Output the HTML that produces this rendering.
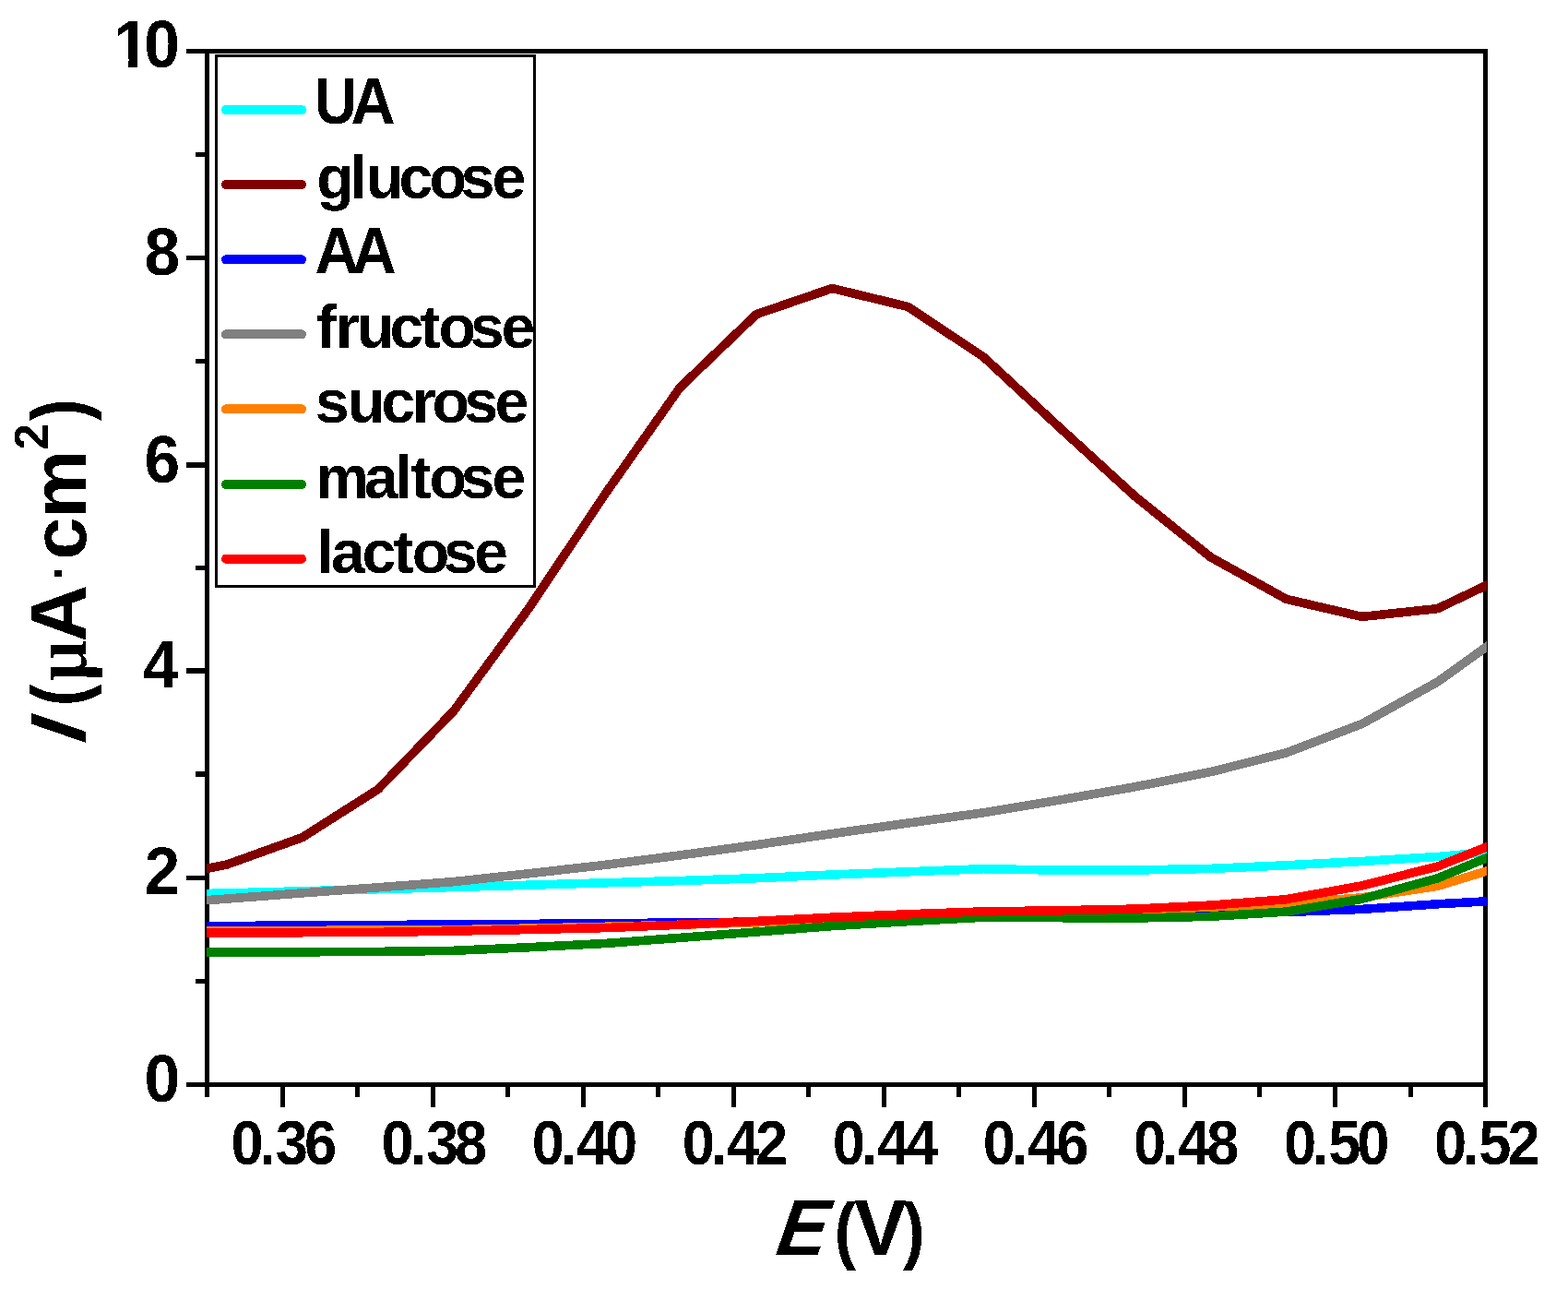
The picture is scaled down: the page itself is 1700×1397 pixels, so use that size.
<!DOCTYPE html>
<html lang="en">
<head>
<meta charset="utf-8">
<title>I vs E chart</title>
<style>
html,body{margin:0;padding:0;background:#fff;}
body{width:1700px;height:1397px;overflow:hidden;}
svg{display:block;}
text{white-space:pre;}
</style>
</head>
<body>
<svg width="1700" height="1397" viewBox="0 0 1700 1397">
<rect width="1700" height="1397" fill="#fff"/>
<g shape-rendering="crispEdges">
<rect x="202" y="53" width="1411" height="5" fill="#000"/>
<rect x="202" y="1173" width="1411" height="5" fill="#000"/>
<rect x="222" y="53" width="5" height="1136" fill="#000"/>
<rect x="1608" y="53" width="5" height="1147" fill="#000"/>
<rect x="212" y="1061" width="10" height="5" fill="#000"/>
<rect x="202" y="949" width="20" height="5" fill="#000"/>
<rect x="212" y="836" width="10" height="6" fill="#000"/>
<rect x="202" y="724" width="20" height="6" fill="#000"/>
<rect x="212" y="613" width="10" height="5" fill="#000"/>
<rect x="202" y="501" width="20" height="6" fill="#000"/>
<rect x="212" y="389" width="10" height="5" fill="#000"/>
<rect x="202" y="277" width="20" height="5" fill="#000"/>
<rect x="212" y="165" width="10" height="5" fill="#000"/>
<rect x="304" y="1178" width="5" height="22" fill="#000"/>
<rect x="385" y="1178" width="5" height="11" fill="#000"/>
<rect x="467" y="1178" width="5" height="22" fill="#000"/>
<rect x="548" y="1178" width="5" height="11" fill="#000"/>
<rect x="630" y="1178" width="5" height="22" fill="#000"/>
<rect x="711" y="1178" width="5" height="11" fill="#000"/>
<rect x="793" y="1178" width="5" height="22" fill="#000"/>
<rect x="874" y="1178" width="5" height="11" fill="#000"/>
<rect x="956" y="1178" width="5" height="22" fill="#000"/>
<rect x="1037" y="1178" width="5" height="11" fill="#000"/>
<rect x="1119" y="1178" width="5" height="22" fill="#000"/>
<rect x="1200" y="1178" width="5" height="11" fill="#000"/>
<rect x="1282" y="1178" width="5" height="22" fill="#000"/>
<rect x="1363" y="1178" width="5" height="11" fill="#000"/>
<rect x="1445" y="1178" width="5" height="22" fill="#000"/>
<rect x="1527" y="1178" width="5" height="11" fill="#000"/>
</g>
<defs><clipPath id="pc"><rect x="224" y="40" width="1388" height="1150"/></clipPath></defs>
<g clip-path="url(#pc)" fill="none" stroke-width="9.6" stroke-linejoin="round" stroke-linecap="butt" shape-rendering="crispEdges">
<polyline stroke="#00ffff" points="163.6,970.1 245.7,967.9 327.8,965.8 409.8,963.7 491.9,961.5 573.9,959.2 656.0,956.8 738.1,954.5 820.1,951.7 902.2,948.0 984.2,944.8 1066.3,941.7 1148.4,943.1 1230.4,943.0 1312.5,941.4 1394.5,937.8 1476.6,933.5 1558.7,928.5 1640.7,921.1"/>
<polyline stroke="#800000" points="163.6,953.0 245.7,937.1 327.8,907.6 409.8,855.5 491.9,770.5 573.9,658.5 656.0,535.5 737.2,420.0 820.1,340.6 902.2,312.5 984.2,332.4 1066.3,386.8 1148.4,463.0 1230.4,537.8 1312.5,603.8 1394.5,649.3 1476.6,668.4 1558.7,659.6 1640.7,620.4"/>
<polyline stroke="#0000ff" points="163.6,1003.9 245.7,1003.5 327.8,1003.0 409.8,1002.5 491.9,1002.0 573.9,1001.4 656.0,1000.7 738.1,1000.0 820.1,999.0 902.2,997.1 984.2,995.2 1066.3,993.2 1148.4,992.2 1230.4,991.3 1312.5,990.3 1394.5,988.5 1476.6,985.4 1558.7,979.8 1640.7,975.2"/>
<polyline stroke="#808080" points="163.6,980.2 245.7,974.1 327.8,967.9 409.8,961.8 491.9,955.6 573.9,946.7 656.0,937.4 738.1,926.8 820.1,915.6 902.2,903.6 984.2,892.1 1066.3,880.8 1148.4,867.1 1230.4,852.8 1312.5,836.6 1394.5,815.9 1476.6,784.5 1558.7,739.0 1640.7,680.1"/>
<polyline stroke="#ff8000" points="163.6,1009.2 245.7,1008.8 327.8,1008.4 409.8,1008.1 491.9,1007.7 573.9,1006.1 656.0,1004.3 738.1,1002.2 820.1,999.8 902.2,997.0 984.2,994.2 1066.3,991.4 1148.4,988.8 1230.4,986.1 1312.5,983.1 1394.5,979.3 1476.6,972.8 1558.7,960.3 1640.7,935.2"/>
<polyline stroke="#008000" points="163.6,1032.6 245.7,1032.2 327.8,1031.8 409.8,1031.4 491.9,1030.3 573.9,1026.7 656.0,1022.5 738.1,1016.3 820.1,1010.0 902.2,1003.6 984.2,998.6 1066.3,994.2 1148.4,994.7 1230.4,995.0 1312.5,993.3 1394.5,988.1 1476.6,974.3 1558.7,951.8 1640.7,917.8"/>
<polyline stroke="#ff0000" points="163.6,1011.0 245.7,1010.9 327.8,1010.7 409.8,1010.4 491.9,1009.1 573.9,1007.5 656.0,1005.6 738.1,1002.2 820.1,998.4 902.2,994.2 984.2,990.8 1066.3,987.9 1148.4,986.8 1230.4,985.1 1312.5,981.1 1394.5,974.7 1476.6,959.9 1558.7,939.0 1640.7,906.4"/>
</g>
<g shape-rendering="crispEdges">
<rect x="234.5" y="60.5" width="345" height="575" fill="#fff" stroke="#000" stroke-width="3"/>
</g>
<g stroke-width="10" stroke-linecap="round" shape-rendering="crispEdges">
<line x1="245" y1="119" x2="327" y2="119" stroke="#00ffff"/>
<line x1="245" y1="200" x2="327" y2="200" stroke="#800000"/>
<line x1="245" y1="281.3" x2="327" y2="281.3" stroke="#0000ff"/>
<line x1="245" y1="362.4" x2="327" y2="362.4" stroke="#808080"/>
<line x1="245" y1="443.4" x2="327" y2="443.4" stroke="#ff8000"/>
<line x1="245" y1="525" x2="327" y2="525" stroke="#008000"/>
<line x1="245" y1="605.7" x2="327" y2="605.7" stroke="#ff0000"/>
</g>
<filter id="al" filterUnits="userSpaceOnUse" x="0" y="0" width="1700" height="1397" color-interpolation-filters="sRGB"><feComponentTransfer><feFuncA type="discrete" tableValues="0 1"/></feComponentTransfer></filter>
<g font-family="&quot;Liberation Sans&quot;, Arial, sans-serif" font-weight="bold" fill="#000" filter="url(#al)">
<text transform="translate(0,1193.7) scale(1,1.035)" x="156.40" y="0" font-size="69.6">0</text>
<text transform="translate(0,968.9) scale(1,1.035)" x="156.60" y="0" font-size="69.6">2</text>
<text transform="translate(0,744.7) scale(1,1.035)" x="154.90" y="0" font-size="69.6">4</text>
<text transform="translate(0,522.7) scale(1,1.035)" x="156.40" y="0" font-size="69.6">6</text>
<text transform="translate(0,298.4) scale(1,1.035)" x="156.40" y="0" font-size="69.6">8</text>
<clipPath id="one"><rect x="100" y="0" width="100" height="64.70"/><rect x="161" y="64.20" width="39" height="12"/><rect x="139.44" y="64.20" width="9.55" height="12"/></clipPath>
<g clip-path="url(#one)"><text transform="translate(0,72.7) scale(1,1.035)" x="123.20 156.30" y="0" font-size="69.6">10</text></g>
<text transform="translate(0,1261.5) scale(1,1.071)" x="250.53 281.33 298.83 329.93" y="0" font-size="63.3">0.36</text>
<text transform="translate(0,1261.5) scale(1,1.071)" x="413.59 444.39 461.89 492.99" y="0" font-size="63.3">0.38</text>
<text transform="translate(0,1261.5) scale(1,1.071)" x="576.65 607.45 624.95 656.05" y="0" font-size="63.3">0.40</text>
<text transform="translate(0,1261.5) scale(1,1.071)" x="739.71 770.51 788.01 819.11" y="0" font-size="63.3">0.42</text>
<text transform="translate(0,1261.5) scale(1,1.071)" x="902.76 933.56 951.06 982.16" y="0" font-size="63.3">0.44</text>
<text transform="translate(0,1261.5) scale(1,1.071)" x="1065.82 1096.62 1114.12 1145.22" y="0" font-size="63.3">0.46</text>
<text transform="translate(0,1261.5) scale(1,1.071)" x="1228.88 1259.68 1277.18 1308.28" y="0" font-size="63.3">0.48</text>
<text transform="translate(0,1261.5) scale(1,1.071)" x="1391.94 1422.74 1440.24 1471.34" y="0" font-size="63.3">0.50</text>
<text transform="translate(0,1261.5) scale(1,1.071)" x="1555.00 1585.80 1603.30 1634.40" y="0" font-size="63.3">0.52</text>
<text transform="translate(0,133.9) scale(1,1.055)" x="341.21 380.44" y="0" font-size="66.5"><tspan textLength="45.62" lengthAdjust="spacingAndGlyphs">U</tspan>A</text>
<text x="343.27 379.36 396.78 432.40 465.50 499.56 533.60" y="214.8" font-size="66.5">glucose</text>
<text transform="translate(0,295.8) scale(1,1.055)" x="341.44 381.84" y="0" font-size="66.5">AA</text>
<text x="342.96 363.72 386.78 422.40 455.49 475.40 509.86 543.40" y="376.9" font-size="66.5">fructose</text>
<text x="341.76 376.78 413.30 446.82 468.40 503.26 536.50" y="457.9" font-size="66.5">sucrose</text>
<text x="342.86 394.85 428.56 445.19 465.50 499.56 533.60" y="539.7" font-size="66.5"><tspan textLength="57.18" lengthAdjust="spacingAndGlyphs">m</tspan>altose</text>
<text x="343.26 359.05 392.40 426.59 446.80 480.86 514.00" y="620.7" font-size="66.5">lactose</text>
<text transform="translate(835.8,1360) skewX(-19) scale(0.975,1.04)" font-size="83">E</text>
<text x="904.45 925.92 978.93" y="1360" font-size="83"><tspan font-size="80" textLength="23.71" lengthAdjust="spacingAndGlyphs">(</tspan><tspan font-size="85.5">V</tspan><tspan font-size="80" textLength="23.71" lengthAdjust="spacingAndGlyphs">)</tspan></text>
<g transform="translate(93,0) rotate(-90)"><text transform="translate(-810.5,0) skewX(-19) scale(1,1.04)" font-size="83">I</text><text font-size="83" y="0" x="-765.40 -738.32 -696.05 -633.54 -606.89 -561.47 -487.57 -456.17"><tspan textLength="24.05" lengthAdjust="spacingAndGlyphs">(</tspan><tspan font-family="&quot;Liberation Serif&quot;, serif" textLength="44.47" lengthAdjust="spacingAndGlyphs">µ</tspan><tspan font-size="86.5">A</tspan><tspan font-weight="normal" font-size="72" dy="-10">·</tspan><tspan dy="10">c</tspan>m<tspan font-size="51" dy="-41">2</tspan><tspan dy="41" textLength="24.05" lengthAdjust="spacingAndGlyphs">)</tspan></text></g>
</g>
</svg>
</body>
</html>
